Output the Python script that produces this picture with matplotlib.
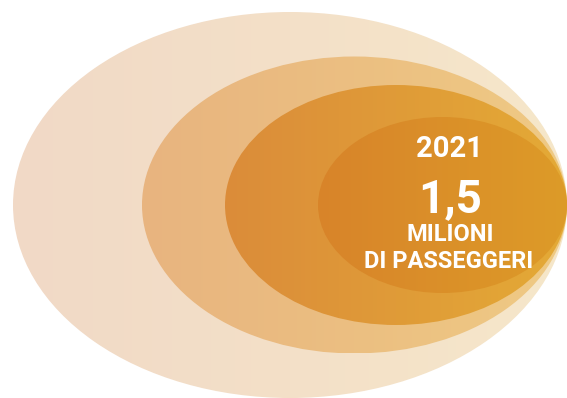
import numpy as np
import matplotlib.pyplot as plt
from matplotlib.patches import Ellipse
from matplotlib.colors import LinearSegmentedColormap

# nested rings, biggest first (pixel units, all sharing the right edge)
right_edge = 567
center_y = 205
widths = [554, 425, 342, 249]
heights = [386, 297, 240, 176]
left_colors = ['#f1d9c6', '#e8b47f', '#db8c3a', '#d8842a']
right_colors = ['#f6e7ca', '#efca84', '#e4aa36', '#dd9b28']

year = '2021'
value = '1,5'
unit_lines = ['MILIONI', 'DI PASSEGGERI']

fig = plt.figure(figsize=(5.67, 3.98), dpi=100)
ax = fig.add_axes([0, 0, 1, 1])
ax.set_xlim(0, 567)
ax.set_ylim(398, 0)
ax.axis('off')

grad = np.linspace(0, 1, 256).reshape(1, -1)
for w, h, c0, c1 in zip(widths, heights, left_colors, right_colors):
    cx = right_edge - w / 2
    ell = Ellipse((cx, center_y), w, h, facecolor='none', edgecolor='none')
    ax.add_patch(ell)
    cmap = LinearSegmentedColormap.from_list('g', [c0, c1])
    im = ax.imshow(grad, cmap=cmap, aspect='auto',
                   extent=(cx - w / 2, cx + w / 2, center_y + h / 2, center_y - h / 2),
                   interpolation='bilinear')
    im.set_clip_path(ell)

ax.set_xlim(0, 567)
ax.set_ylim(398, 0)

txt = dict(color='white', family='Roboto', weight='bold', ha='center', va='baseline')
ax.text(449, 157, year, fontsize=21, **txt)
ax.text(450, 212, value, fontsize=33, **txt)
ax.text(450, 241, unit_lines[0], fontsize=17, **txt)
ax.text(449, 268, unit_lines[1], fontsize=17, **txt)

fig.savefig('out.png', dpi=100)
